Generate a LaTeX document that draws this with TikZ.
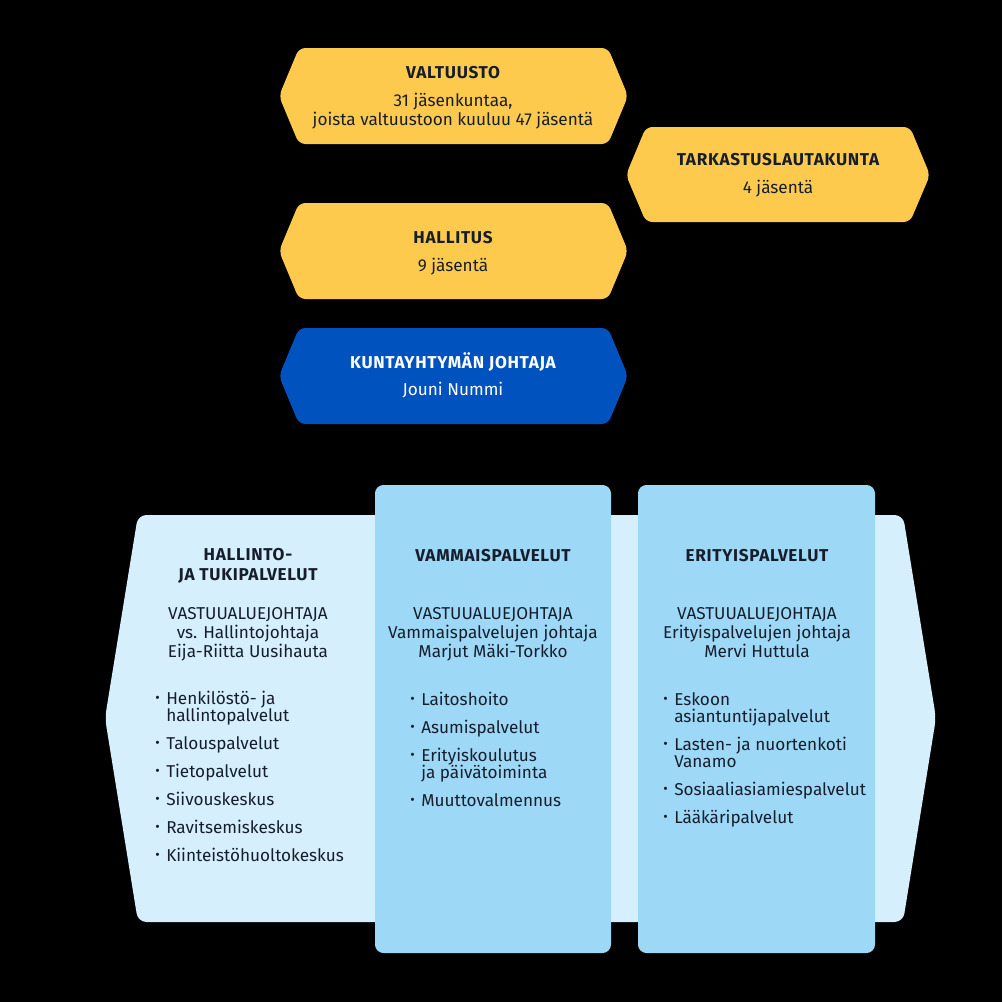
\documentclass[tikz,border=0pt]{standalone}
\usepackage{fontspec}
\setmainfont{Fira Sans}
\usetikzlibrary{positioning}
\usepackage{xcolor}
\definecolor{councilYL}{RGB}{254,202,77}
\definecolor{directorBL}{RGB}{0,82,191}
\definecolor{areaLT}{RGB}{213,239,252}
\definecolor{unitMD}{RGB}{158,216,247}
\definecolor{inkDK}{RGB}{22,30,44}

\newcommand{\lsdot}{\makebox[7.8pt][l]{\raisebox{.2ex}{\scalebox{.8}{\textbullet}}}}
\newcommand{\lsind}{\hspace*{7.8pt}}
\newcommand{\tightlines}{\lineskiplimit=-20pt\relax}

\tikzset{
  boxtitle/.style={font=\bfseries\fontsize{12.2}{14.2}\selectfont\addfontfeature{LetterSpace=4},text=inkDK,anchor=base,inner sep=0pt},
  boxtext/.style={font=\fontsize{12.2}{13.5}\selectfont\tightlines,text=inkDK,align=center,anchor=base,inner sep=0pt},
  listtext/.style={font=\fontsize{12.2}{12.1}\selectfont\tightlines,text=inkDK,align=left,anchor=base west,inner sep=0pt},
  hexfill/.style={rounded corners=4.5pt}
}

\begin{document}
\begin{tikzpicture}[x=0.025cm,y=-0.025cm]
        % background
        \fill[black] (0,0) rectangle (1002,1002);

        % governing bodies
        \fill[councilYL,hexfill] (299,48) -- (608,48) -- (628,96) -- (608,144) -- (299,144) -- (279,96) -- cycle;
        \fill[councilYL,hexfill] (646,127) -- (910,127) -- (930,175) -- (910,222) -- (646,222) -- (626,175) -- cycle;
        \fill[councilYL,hexfill] (299,203) -- (608,203) -- (628,251) -- (608,299) -- (299,299) -- (279,251) -- cycle;
        \fill[directorBL,hexfill] (299,328) -- (608,328) -- (628,376) -- (608,424) -- (299,424) -- (279,376) -- cycle;

        \node[boxtitle] (valtuusto) at (453,78) {VALTUUSTO};
        \node[boxtext] (valtuustoText) at (453,125) {31 jäsenkuntaa,\\joista valtuustoon kuuluu 47 jäsentä};
        \node[boxtitle] (tarkastus) at (778,165) {TARKASTUSLAUTAKUNTA};
        \node[boxtext] (tarkastusText) at (778,193) {4 jäsentä};
        \node[boxtitle] (hallitus) at (453,243) {HALLITUS};
        \node[boxtext] (hallitusText) at (453,271) {9 jäsentä};
        \node[boxtitle,text=white] (johtaja) at (453,368) {KUNTAYHTYMÄN JOHTAJA};
        \node[boxtext,text=white] (johtajaText) at (453,395) {Jouni Nummi};

        % service areas
        \fill[areaLT,rounded corners=6pt] (138,515) -- (903,515) -- (936,718) -- (903,922) -- (138,922) -- (105,718) -- cycle;
        \fill[unitMD,rounded corners=6pt] (375,485) rectangle (611,953);
        \fill[unitMD,rounded corners=6pt] (638,485) rectangle (875,953);

        \node[boxtitle,align=center] (hallinto) at (248,580) {HALLINTO-\\JA TUKIPALVELUT};
        \node[boxtitle] (vammais) at (493,561) {VAMMAISPALVELUT};
        \node[boxtitle] (erityis) at (757,561) {ERITYISPALVELUT};

        \node[boxtext] (hallintoJohto) at (248,657) {VASTUUALUEJOHTAJA\\vs. Hallintojohtaja\\Eija-Riitta Uusihauta};
        \node[boxtext] (vammaisJohto) at (493,657) {VASTUUALUEJOHTAJA\\Vammaispalvelujen johtaja\\Marjut Mäki-Torkko};
        \node[boxtext] (erityisJohto) at (757,657) {VASTUUALUEJOHTAJA\\Erityispalvelujen johtaja\\Mervi Huttula};

        \node[listtext] (hallintoList) at (155,861)
          {\lsdot Henkilöstö- ja\\\lsind hallintopalvelut\\[7.8pt]
           \lsdot Talouspalvelut\\[7.8pt]
           \lsdot Tietopalvelut\\[7.8pt]
           \lsdot Siivouskeskus\\[7.8pt]
           \lsdot Ravitsemiskeskus\\[7.8pt]
           \lsdot Kiinteistöhuoltokeskus};
        \node[listtext] (vammaisList) at (410,806)
          {\lsdot Laitoshoito\\[7.8pt]
           \lsdot Asumispalvelut\\[7.8pt]
           \lsdot Erityiskoulutus\\\lsind ja päivätoiminta\\[7.8pt]
           \lsdot Muuttovalmennus};
        \node[listtext] (erityisList) at (663,823)
          {\lsdot Eskoon\\\lsind asiantuntijapalvelut\\[7.8pt]
           \lsdot Lasten- ja nuortenkoti\\\lsind Vanamo\\[7.8pt]
           \lsdot Sosiaaliasiamiespalvelut\\[7.8pt]
           \lsdot Lääkäripalvelut};
      \end{tikzpicture}
\end{document}
